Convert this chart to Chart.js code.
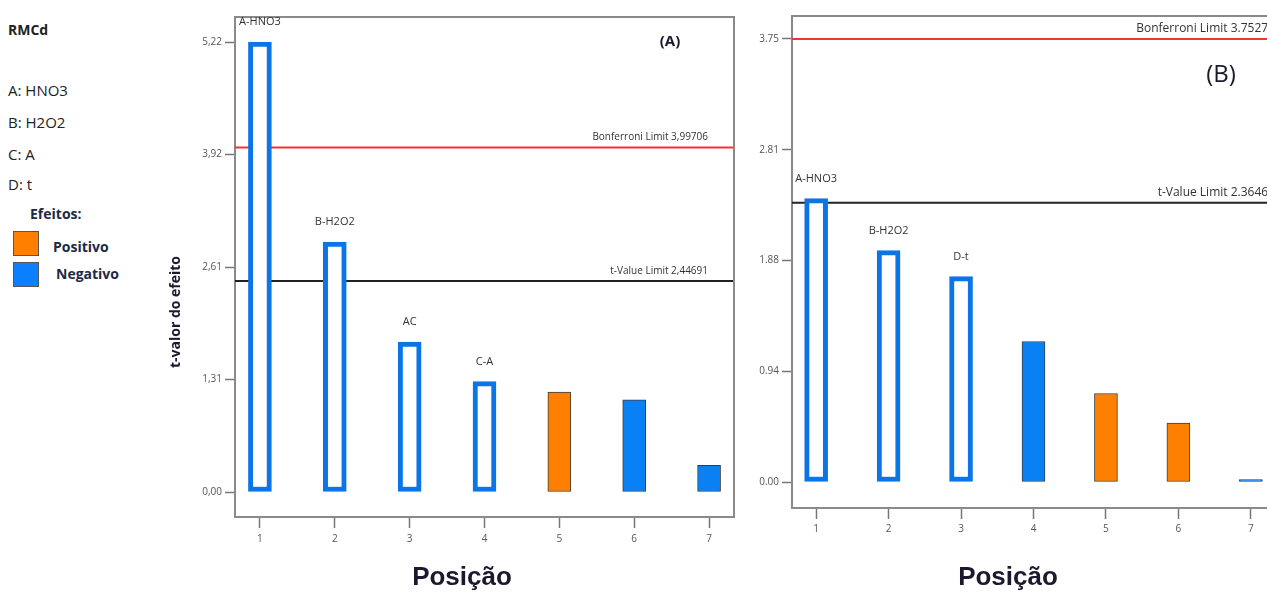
<!DOCTYPE html>
<html>
<head>
<meta charset="utf-8">
<script src="https://cdn.jsdelivr.net/npm/chart.js@4"></script>
<style>
  html, body { margin: 0; padding: 0; background: #fff; overflow: hidden; width: 1267px; height: 592px; }
  body { position: relative; font-family: "Open Sans", sans-serif; color: #222; }
  #wrapA { position: absolute; left: 150px; top: 0; width: 600px; height: 592px; }
  #wrapB { position: absolute; left: 740px; top: 0; width: 545px; height: 592px; }
  .side { position: absolute; left: 8px; font-size: 15px; line-height: 20px; }
  .bold { font-weight: bold; }
  .swatch { position: absolute; left: 13px; width: 26px; height: 25px; border: 1px solid #555; box-sizing: border-box; }
</style>
</head>
<body>

<div class="side bold" style="top:20px;font-size:14px;">RMCd</div>
<div class="side" style="top:80px;">A: HNO3</div>
<div class="side" style="top:112px;">B: H2O2</div>
<div class="side" style="top:144px;">C: A</div>
<div class="side" style="top:174px;">D: t</div>
<div class="side bold" style="top:204px;left:30px;font-size:14px;color:#1c2a44;">Efeitos:</div>
<div class="swatch" style="top:231px;background:#ff8000;"></div>
<div class="side bold" style="top:237px;left:53px;font-size:14px;color:#1c2a44;">Positivo</div>
<div class="swatch" style="top:262px;background:#0a80ff;"></div>
<div class="side bold" style="top:264px;left:56px;font-size:14px;color:#1c2a44;">Negativo</div>

<div id="wrapA"><canvas id="chartA"></canvas></div>
<div id="wrapB"><canvas id="chartB"></canvas></div>

<script>
// positions on the x axis (rank of each effect)
const positions = [1, 2, 3, 4, 5, 6, 7];

// (A) t-values of the effects
const effectsA = [5.22, 2.90, 1.74, 1.28, 1.16, 1.07, 0.31];
const signsA = ['neg', 'neg', 'neg', 'neg', 'pos', 'neg', 'neg'];
const termsA = ['A-HNO3', 'B-H2O2', 'AC', 'C-A', '', '', ''];
const bonferroniA = 3.99706;
const tLimitA = 2.44691;
const yTicksA = [0, 1.305, 2.61, 3.915, 5.22];
const yTickLabelsA = ['0,00', '1,31', '2,61', '3,92', '5,22'];

// (B) t-values of the effects
const effectsB = [2.40, 1.96, 1.74, 1.19, 0.75, 0.50, 0.02];
const signsB = ['neg', 'neg', 'neg', 'neg', 'pos', 'pos', 'neg'];
const termsB = ['A-HNO3', 'B-H2O2', 'D-t', '', '', '', ''];
const bonferroniB = 3.75277;
const tLimitB = 2.36462;
const yTicksB = [0, 0.938, 1.876, 2.814, 3.7527];
const yTickLabelsB = ['0.00', '0.94', '1.88', '2.81', '3.75'];

const BLUE = '#0a80f5';
const ORANGE = '#ff8000';
const AXIS = '#8a8a8a';
const TICK_TXT = '#555';

// draws the frame, term labels, limit labels, panel tag and axis titles
const annotate = {
    id: 'annotate',
    afterDraw(chart, args, opts) {
        const { ctx, chartArea: a, scales: { y } } = chart;
        ctx.save();

        ctx.strokeStyle = AXIS;
        ctx.lineWidth = 2;
        ctx.beginPath();
        ctx.moveTo(a.left, a.top);
        ctx.lineTo(a.right, a.top);
        ctx.lineTo(a.right, a.bottom);
        ctx.stroke();

        // term names above the bars
        const meta = chart.getDatasetMeta(0);
        ctx.font = '11px "Open Sans"';
        ctx.fillStyle = '#333';
        ctx.textAlign = 'center';
        ctx.textBaseline = 'middle';
        opts.terms.forEach((t, i) => {
            if (!t) return;
            const bar = meta.data[i];
            ctx.fillText(t, bar.x, bar.y - 20);
        });

        // limit labels
        ctx.font = opts.limitFont;
        ctx.textAlign = 'right';
        ctx.textBaseline = 'middle';
        opts.limits.forEach(l => {
            ctx.fillText(l.text, a.right - opts.limitInset, y.getPixelForValue(l.value) - 10);
        });

        // panel tag
        ctx.fillStyle = '#1a1a2e';
        ctx.font = opts.tag.font;
        ctx.textAlign = 'center';
        ctx.fillText(opts.tag.text, opts.tag.x, opts.tag.y);

        // x title
        ctx.font = 'bold 26px "Liberation Sans"';
        ctx.fillStyle = '#1a1a2e';
        ctx.fillText('Posição', opts.xTitleX, 578);

        // y title
        if (opts.yTitle) {
            ctx.translate(26, 312);
            ctx.rotate(-Math.PI / 2);
            ctx.font = 'bold 14px "Open Sans"';
            ctx.fillText(opts.yTitle, 0, 0);
        }
        ctx.restore();
    }
};

function barStyle(signs, terms) {
    return {
        backgroundColor: terms.map((t, i) => t ? '#ffffff' : (signs[i] === 'pos' ? ORANGE : BLUE)),
        borderColor: terms.map((t, i) => t ? '#0b74e6' : '#3c3c3c'),
        borderWidth: terms.map(t => t ? 5 : 1),
    };
}

function limitLine(value, color) {
    return {
        type: 'line',
        data: [{ x: 0.667, y: value }, { x: 7.333, y: value }],
        borderColor: color,
        borderWidth: 2,
        pointRadius: 0,
        order: 1,
    };
}

function makeChart(id, cfg) {
    const style = barStyle(cfg.signs, cfg.terms);
    return new Chart(document.getElementById(id).getContext('2d'), {
        type: 'bar',
        data: {
            datasets: [
                {
                    data: positions.map((p, i) => ({ x: p, y: cfg.effects[i] })),
                    backgroundColor: style.backgroundColor,
                    borderColor: style.borderColor,
                    borderWidth: style.borderWidth,
                    borderSkipped: false,
                    barThickness: 23,
                    order: 0,
                },
                limitLine(cfg.bonferroni, '#f03434'),
                limitLine(cfg.tLimit, '#222222'),
            ],
        },
        options: {
            responsive: true,
            maintainAspectRatio: false,
            animation: false,
            layout: { padding: { top: cfg.padTop, right: cfg.padRight, left: 0, bottom: 0 } },
            plugins: {
                legend: { display: false },
                tooltip: { enabled: false },
                annotate: {
                    terms: cfg.terms,
                    limits: [
                        { value: cfg.bonferroni, text: cfg.bonferroniText },
                        { value: cfg.tLimit, text: cfg.tLimitText },
                    ],
                    limitFont: cfg.limitFont,
                    limitInset: cfg.limitInset,
                    tag: cfg.tag,
                    xTitleX: cfg.xTitleX,
                    yTitle: cfg.yTitle,
                },
            },
            scales: {
                x: {
                    type: 'linear',
                    min: 0.667,
                    max: 7.333,
                    offset: false,
                    afterBuildTicks: s => { s.ticks = positions.map(v => ({ value: v })); },
                    afterFit: s => { s.height = cfg.xHeight; },
                    grid: { offset: false, drawOnChartArea: false, tickLength: 11, tickColor: '#777', tickWidth: 1.5 },
                    border: { color: AXIS, width: 2 },
                    ticks: { color: TICK_TXT, font: { family: 'Open Sans', size: 10 }, padding: cfg.xPad,
                             callback: v => String(v) },
                },
                y: {
                    min: cfg.yMin,
                    max: cfg.yMax,
                    afterBuildTicks: s => { s.ticks = cfg.yTicks.map(v => ({ value: v })); },
                    afterFit: s => { s.width = cfg.yWidth; },
                    grid: { drawOnChartArea: false, tickLength: 10, tickColor: '#777', tickWidth: 1.5 },
                    border: { color: AXIS, width: 2 },
                    ticks: { color: TICK_TXT, font: { family: 'Open Sans', size: 10 }, padding: 3,
                             callback: (v, i) => cfg.yTickLabels[i] },
                },
            },
        },
        plugins: [annotate],
    });
}

makeChart('chartA', {
    effects: effectsA, signs: signsA, terms: termsA,
    bonferroni: bonferroniA, tLimit: tLimitA,
    bonferroniText: 'Bonferroni Limit 3,99706', tLimitText: 't-Value Limit 2,44691',
    yTicks: yTicksA, yTickLabels: yTickLabelsA,
    yMin: -0.29, yMax: 5.51,
    padTop: 17, padRight: 16, xHeight: 75, yWidth: 85, xPad: 5,
    limitFont: '10px "Open Sans"', limitInset: 26,
    tag: { text: '(A)', font: 'bold 15px "Open Sans"', x: 520, y: 42 },
    xTitleX: 312,
    yTitle: 't-valor do efeito',
});

makeChart('chartB', {
    effects: effectsB, signs: signsB, terms: termsB,
    bonferroni: bonferroniB, tLimit: tLimitB,
    bonferroniText: 'Bonferroni Limit 3.75277', tLimitText: 't-Value Limit 2.36462',
    yTicks: yTicksB, yTickLabels: yTickLabelsB,
    yMin: -0.22, yMax: 3.947,
    padTop: 16, padRight: 10, xHeight: 84, yWidth: 52, xPad: 4,
    limitFont: '12px "Open Sans"', limitInset: 0,
    tag: { text: '(B)', font: '24px "Open Sans"', x: 481, y: 75 },
    xTitleX: 268,
    yTitle: '',
});
</script>
</body>
</html>
